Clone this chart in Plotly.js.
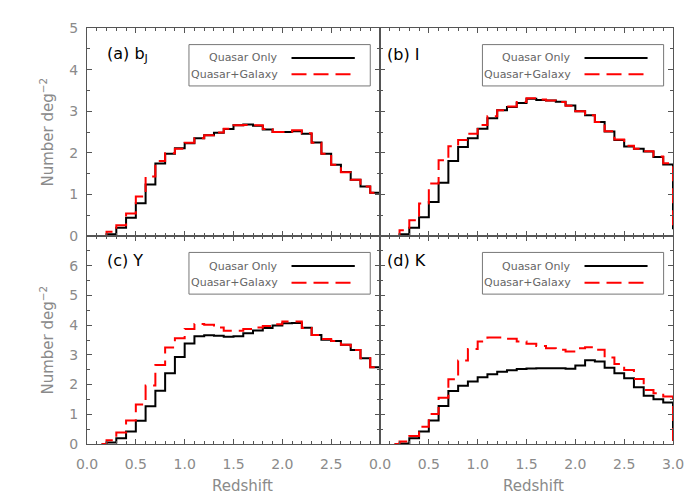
<!DOCTYPE html>
<html>
<head>
<meta charset="utf-8">
<script src="https://cdn.plot.ly/plotly-3.0.1.min.js"></script>
<style>
  html, body { margin: 0; padding: 0; background: #fff; }
  #chart { width: 700px; height: 500px; }
</style>
</head>
<body>
<div id="chart"></div>
<script>
// bin left edges (first point is where the step line starts, last is the drop at z=3)
const binEdges = [0.15, 0.2, 0.3, 0.4, 0.5, 0.6, 0.7, 0.8, 0.9, 1.0,
  1.1, 1.2, 1.3, 1.4, 1.5, 1.6, 1.7, 1.8, 1.9, 2.0,
  2.1, 2.2, 2.3, 2.4, 2.5, 2.6, 2.7, 2.8, 2.9, 3.0];

const bjQuasar = [0, 0.04, 0.2, 0.44, 0.79, 1.24, 1.74, 1.98, 2.11, 2.23,
  2.35, 2.42, 2.48, 2.57, 2.66, 2.68, 2.65, 2.56, 2.5, 2.5,
  2.52, 2.46, 2.25, 1.98, 1.71, 1.54, 1.35, 1.19, 1.04, 0.1];
const bjQuasarGalaxy = [0, 0.1, 0.26, 0.54, 0.95, 1.43, 1.8, 1.99, 2.1, 2.24,
  2.35, 2.42, 2.49, 2.58, 2.66, 2.67, 2.66, 2.57, 2.5, 2.5,
  2.54, 2.47, 2.24, 1.98, 1.71, 1.53, 1.35, 1.19, 1.04, 0.1];

const iQuasar = [0, 0.04, 0.2, 0.45, 0.82, 1.28, 1.8, 2.14, 2.35, 2.58,
  2.83, 3.02, 3.1, 3.2, 3.3, 3.27, 3.26, 3.23, 3.14, 3.0,
  2.9, 2.74, 2.51, 2.31, 2.15, 2.1, 2.03, 1.9, 1.72, 0.16];
const iQuasarGalaxy = [0, 0.14, 0.38, 0.78, 1.26, 1.82, 2.16, 2.31, 2.46, 2.67,
  2.88, 3.02, 3.11, 3.22, 3.31, 3.28, 3.26, 3.22, 3.13, 3.0,
  2.9, 2.74, 2.52, 2.32, 2.17, 2.1, 2.04, 1.91, 1.75, 0.16];

const yQuasar = [0, 0.05, 0.19, 0.42, 0.78, 1.27, 1.79, 2.38, 2.93, 3.38,
  3.63, 3.66, 3.64, 3.61, 3.63, 3.73, 3.82, 3.9, 3.99, 4.06,
  4.07, 3.91, 3.67, 3.51, 3.47, 3.34, 3.16, 2.89, 2.58, 0.2];
const yQuasarGalaxy = [0, 0.13, 0.39, 0.79, 1.33, 1.97, 2.66, 3.25, 3.56, 3.87,
  4.04, 4.01, 3.92, 3.81, 3.81, 3.87, 3.92, 3.97, 4.03, 4.12,
  4.12, 3.9, 3.67, 3.53, 3.47, 3.34, 3.16, 2.89, 2.58, 0.2];

const kQuasar = [0, 0.02, 0.19, 0.42, 0.79, 1.28, 1.78, 1.96, 2.1, 2.25,
  2.35, 2.43, 2.48, 2.52, 2.54, 2.55, 2.55, 2.55, 2.53, 2.64,
  2.82, 2.78, 2.57, 2.38, 2.21, 1.91, 1.62, 1.51, 1.4, 0.11];
const kQuasarGalaxy = [0, 0.08, 0.27, 0.58, 1.01, 1.56, 2.18, 2.81, 3.2, 3.45,
  3.58, 3.58, 3.54, 3.45, 3.37, 3.3, 3.22, 3.17, 3.11, 3.22,
  3.26, 3.17, 2.91, 2.69, 2.49, 2.19, 1.82, 1.71, 1.6, 0.11];

const panelLabels = ["(a) b<sub>J</sub>", "(b) I", "(c) Y", "(d) K"];
const seriesNames = ["Quasar Only", "Quasar+Galaxy"];
const xTickVals = [0, 0.5, 1.0, 1.5, 2.0, 2.5, 3.0];
const xTickText = ["0.0", "0.5", "1.0", "1.5", "2.0", "2.5", "3.0"];
const yTopTicks = [0, 1, 2, 3, 4, 5];
const yBottomTicks = [0, 1, 2, 3, 4, 5, 6];

const FONT = "DejaVu Sans, sans-serif";
const LINE = "#555";
const TEXT = "#8a8a8a";
const RED_DASH = "15px,7px";

const panels = [
  { q: bjQuasar, g: bjQuasarGalaxy, ax: "" },
  { q: iQuasar, g: iQuasarGalaxy, ax: "2" },
  { q: yQuasar, g: yQuasarGalaxy, ax: "3" },
  { q: kQuasar, g: kQuasarGalaxy, ax: "4" },
];

const traces = [];
panels.forEach((p) => {
  traces.push({
    type: "scatter", mode: "lines", x: binEdges, y: p.q,
    xaxis: "x" + p.ax, yaxis: "y" + p.ax,
    line: { shape: "hv", color: "#000", width: 2 },
    name: seriesNames[0], showlegend: false, hoverinfo: "skip",
  });
  traces.push({
    type: "scatter", mode: "lines", x: binEdges, y: p.g,
    xaxis: "x" + p.ax, yaxis: "y" + p.ax,
    line: { shape: "hv", color: "#ff0000", width: 2, dash: RED_DASH },
    name: seriesNames[1], showlegend: false, hoverinfo: "skip",
  });
});

function axisBase() {
  return {
    showline: true, linecolor: LINE, linewidth: 1, mirror: "ticks",
    ticks: "inside", ticklen: 5, tickcolor: LINE, tickwidth: 1,
    zeroline: false, showgrid: false,
    tickfont: { family: FONT, size: 14, color: TEXT },
  };
}

// nLabels: how many of the x ticks carry a label (0 = none)
function xAxis(domain, anchor, nLabels) {
  const ax = Object.assign(axisBase(), {
    domain, anchor, range: [0, 3],
    tickmode: "array",
    showticklabels: nLabels > 0, ticklabelstandoff: 7,
    minor: { ticks: "inside", ticklen: 3, tickcolor: LINE, dtick: 0.1, showgrid: false },
  });
  if (nLabels > 0) {
    ax.tickvals = xTickVals.slice(0, nLabels);
    ax.ticktext = xTickText.slice(0, nLabels);
  } else {
    ax.tickvals = xTickVals;
  }
  return ax;
}

function yAxis(domain, anchor, range, ticks, showLabels) {
  const ax = Object.assign(axisBase(), {
    domain, anchor, range,
    tickmode: "array", tickvals: ticks,
    showticklabels: showLabels, ticklabelstandoff: 5,
    minor: { ticks: "inside", ticklen: 3, tickcolor: LINE, dtick: 0.5, showgrid: false },
  });
  if (showLabels) ax.ticktext = ticks.map(String);
  return ax;
}

const layout = {
  width: 700, height: 500,
  margin: { l: 87.3, r: 27.3, t: 27.7, b: 56 },
  paper_bgcolor: "#fff", plot_bgcolor: "#fff",
  showlegend: false,
  xaxis: xAxis([0, 0.5], "y", 0),
  yaxis: yAxis([0.5, 1], "x", [0, 5], yTopTicks, true),
  xaxis2: xAxis([0.5, 1], "y2", 0),
  yaxis2: yAxis([0.5, 1], "x2", [0, 5], yTopTicks, false),
  xaxis3: xAxis([0, 0.5], "y3", xTickVals.length - 1),
  yaxis3: yAxis([0, 0.5], "x3", [0, 7], yBottomTicks, true),
  xaxis4: xAxis([0.5, 1], "y4", xTickVals.length),
  yaxis4: yAxis([0, 0.5], "x4", [0, 7], yBottomTicks, false),
  shapes: [],
  annotations: [],
};

// panel labels and the small legend box in each panel (paper coordinates)
const boxes = [
  { lx: 0.030, ly: 0.936, bx: [0.174, 0.4834], by: [0.8607, 0.9601], tx: 0.329, sx: [0.349, 0.457], rows: [0.928, 0.889] },
  { lx: 0.5086, ly: 0.936, bx: [0.6748, 0.984], by: [0.8607, 0.9601], tx: 0.8302, sx: [0.849, 0.9566], rows: [0.928, 0.889] },
  { lx: 0.030, ly: 0.4403, bx: [0.174, 0.4834], by: [0.3603, 0.4605], tx: 0.329, sx: [0.349, 0.457], rows: [0.4276, 0.3875] },
  { lx: 0.5086, ly: 0.4403, bx: [0.6748, 0.984], by: [0.3603, 0.4605], tx: 0.8302, sx: [0.849, 0.9566], rows: [0.4276, 0.3875] },
];

boxes.forEach((b, i) => {
  layout.annotations.push({
    xref: "paper", yref: "paper", x: b.lx, y: b.ly, xanchor: "left", yanchor: "middle",
    text: panelLabels[i], showarrow: false,
    font: { family: FONT, size: 16, color: "#000" },
  });
  layout.shapes.push({
    type: "rect", xref: "paper", yref: "paper",
    x0: b.bx[0], x1: b.bx[1], y0: b.by[0], y1: b.by[1],
    line: { color: "#777", width: 1 }, fillcolor: "rgba(0,0,0,0)",
  });
  seriesNames.forEach((name, j) => {
    layout.annotations.push({
      xref: "paper", yref: "paper", x: b.tx, y: b.rows[j], xanchor: "right", yanchor: "middle",
      text: name, showarrow: false,
      font: { family: FONT, size: 11, color: "#666" },
    });
    layout.shapes.push({
      type: "line", xref: "paper", yref: "paper",
      x0: b.sx[0], x1: b.sx[1], y0: b.rows[j], y1: b.rows[j],
      line: j === 0 ? { color: "#000", width: 2 } : { color: "#ff0000", width: 2, dash: RED_DASH },
    });
  });
});

// axis titles
[0.75, 0.25].forEach((y) => {
  layout.annotations.push({
    xref: "paper", yref: "paper", x: -0.069, y, xanchor: "center", yanchor: "middle",
    textangle: -90, text: "Number deg<sup>−2</sup>", showarrow: false,
    font: { family: FONT, size: 15, color: TEXT },
  });
});
[0.2656, 0.7619].forEach((x) => {
  layout.annotations.push({
    xref: "paper", yref: "paper", x, y: -0.101, xanchor: "center", yanchor: "middle",
    text: "Redshift", showarrow: false,
    font: { family: FONT, size: 15, color: TEXT },
  });
});

Plotly.newPlot("chart", traces, layout, { displayModeBar: false, staticPlot: true });
</script>
</body>
</html>
